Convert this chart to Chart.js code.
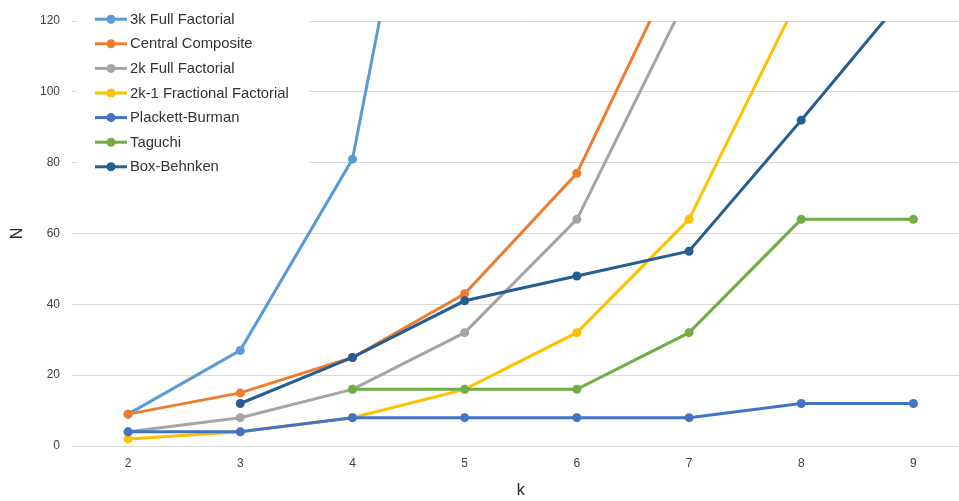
<!DOCTYPE html>
<html>
<head>
<meta charset="utf-8">
<script src="https://cdn.jsdelivr.net/npm/chart.js@4/dist/chart.umd.min.js"></script>
<style>
  html, body { margin: 0; padding: 0; background: #fff; overflow: hidden; }
  #wrap { position: relative; width: 974px; height: 501px; }
</style>
</head>
<body>
<div id="wrap"><canvas id="c"></canvas></div>
<script>
// Number of factors k and runs N for each design type
const kValues = ['2', '3', '4', '5', '6', '7', '8', '9'];
const seriesNames = ['3k Full Factorial', 'Central Composite', '2k Full Factorial',
  '2k-1 Fractional Factorial', 'Plackett-Burman', 'Taguchi', 'Box-Behnken'];
const fullFactorial3k   = [9, 27, 81, 243, 729, 2187, 6561, 19683];
const centralComposite  = [9, 15, 25, 43, 77, 143, 273, 531];
const fullFactorial2k   = [4, 8, 16, 32, 64, 128, 256, 512];
const fractional2k1     = [2, 4, 8, 16, 32, 64, 128, 256];
const plackettBurman    = [4, 4, 8, 8, 8, 8, 12, 12];
const taguchi           = [null, null, 16, 16, 16, 32, 64, 64];
const boxBehnken        = [null, 12, 25, 41, 48, 55, 92, 130];
const yTicks = [0, 20, 40, 60, 80, 100, 120];

const colors = ['#5B9BD5', '#ED7D31', '#A5A5A5', '#FFC000', '#4472C4', '#70AD47', '#255E91'];
const allSeries = [fullFactorial3k, centralComposite, fullFactorial2k, fractional2k1,
  plackettBurman, taguchi, boxBehnken];

const FONT = '"Liberation Sans", Arial, sans-serif';

const datasets = allSeries.map((vals, i) => ({
  label: seriesNames[i],
  data: vals,
  borderColor: colors[i],
  backgroundColor: colors[i],
  pointBackgroundColor: colors[i],
  pointBorderColor: colors[i],
  borderWidth: 3,
  pointRadius: 4.5,
  pointBorderWidth: 0,
  tension: 0,
  clip: 0,
  order: allSeries.length - i   // later series drawn on top
}));

// Legend drawn inside the plot, on a white panel
const insideLegend = {
  id: 'insideLegend',
  afterDraw(chart) {
    const ctx = chart.ctx;
    ctx.save();
    ctx.fillStyle = '#ffffff';
    ctx.fillRect(77, 5, 232, 174);
    const x0 = 95, x1 = 127, tx = 130, y0 = 19.2, dy = 24.6;
    chart.data.datasets.forEach((ds, i) => {
      const y = y0 + i * dy;
      ctx.strokeStyle = ds.borderColor;
      ctx.lineWidth = 3;
      ctx.beginPath();
      ctx.moveTo(x0, y);
      ctx.lineTo(x1, y);
      ctx.stroke();
      ctx.fillStyle = ds.borderColor;
      ctx.beginPath();
      ctx.arc((x0 + x1) / 2, y, 4.5, 0, Math.PI * 2);
      ctx.fill();
      ctx.fillStyle = '#333333';
      ctx.font = '14.8px ' + FONT;
      ctx.textBaseline = 'middle';
      ctx.textAlign = 'left';
      ctx.fillText(ds.label, tx, y + 0.5);
    });
    ctx.restore();
  }
};

new Chart(document.getElementById('c'), {
  type: 'line',
  data: { labels: kValues, datasets },
  options: {
    responsive: true,
    maintainAspectRatio: false,
    animation: false,
    layout: { padding: { top: 21, left: 0, right: 0, bottom: 0 } },
    plugins: { legend: { display: false }, tooltip: { enabled: false } },
    scales: {
      x: {
        offset: true,
        grid: { display: false, drawTicks: false },
        border: { display: false },
        ticks: { color: '#404040', font: { family: FONT, size: 12 }, padding: 10 },
        title: { display: true, text: 'k', color: '#262626',
                 font: { family: FONT, size: 16 }, padding: { top: 0, bottom: 1 } },
        afterFit(scale) { scale.height = 55; }
      },
      y: {
        min: 0, max: 120,
        afterBuildTicks(scale) { scale.ticks = yTicks.map(v => ({ value: v })); },
        grid: { color: '#D9D9D9', lineWidth: 1, drawTicks: false },
        border: { display: false },
        ticks: { color: '#404040', font: { family: FONT, size: 12 }, padding: 12 },
        title: { display: true, text: 'N', color: '#262626',
                 font: { family: FONT, size: 16 }, padding: { top: 8, bottom: 0 } },
        afterFit(scale) { scale.width = 72; }
      }
    }
  },
  plugins: [insideLegend]
});
</script>
</body>
</html>
